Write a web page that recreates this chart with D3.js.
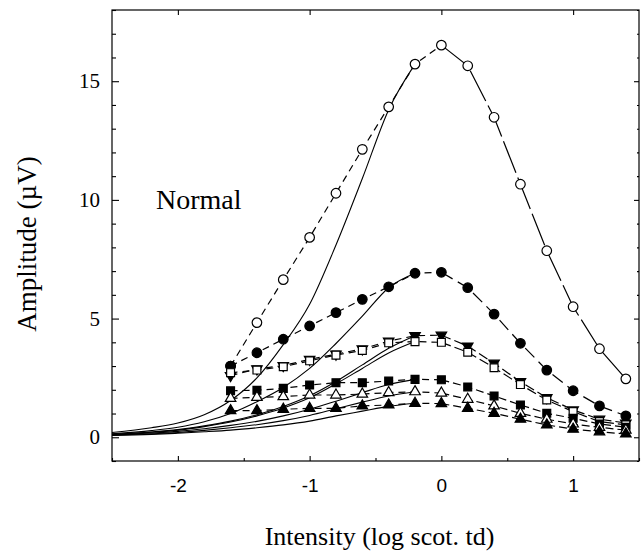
<!DOCTYPE html>
<html>
<head>
<meta charset="utf-8">
<script src="https://cdn.jsdelivr.net/npm/d3@7"></script>
<style>
  body { margin: 0; background: #fff; }
  svg { display: block; }
</style>
</head>
<body>
<div id="chart-container"></div>
<script>
// log intensity of each measured flash
const intensities = [-1.6, -1.4, -1.2, -1.0, -0.8, -0.6, -0.4, -0.2, 0, 0.2, 0.4, 0.6, 0.8, 1.0, 1.2, 1.4];

// measured amplitudes (uV), one list per symbol
const openCircle     = [3.0, 4.83, 6.64, 8.42, 10.28, 12.13, 13.92, 15.72, 16.52, 15.65, 13.48, 10.66, 7.86, 5.50, 3.73, 2.46];
const filledCircle   = [3.0, 3.56, 4.13, 4.69, 5.25, 5.81, 6.34, 6.91, 6.95, 6.30, 5.19, 3.96, 2.83, 1.96, 1.32, 0.90];
const invTriangle    = [2.6, 2.88, 3.02, 3.28, 3.50, 3.72, 4.05, 4.28, 4.30, 3.84, 3.12, 2.34, 1.67, 1.15, 0.76, 0.60];
const openSquare     = [2.72, 2.83, 2.97, 3.22, 3.46, 3.66, 3.98, 4.03, 4.00, 3.58, 2.93, 2.22, 1.57, 1.08, 0.66, 0.52];
const filledSquare   = [1.96, 1.98, 2.06, 2.20, 2.30, 2.30, 2.37, 2.44, 2.42, 2.12, 1.74, 1.36, 1.01, 0.80, 0.56, 0.42];
const openTriangle   = [1.64, 1.68, 1.71, 1.78, 1.78, 1.82, 1.88, 1.92, 1.86, 1.60, 1.32, 1.01, 0.76, 0.56, 0.42, 0.30];
const filledTriangle = [1.12, 1.12, 1.18, 1.22, 1.22, 1.32, 1.36, 1.43, 1.42, 1.22, 1.01, 0.76, 0.52, 0.34, 0.23, 0.14];

// fitted curves (solid lines)
const fitIntensities = [-2.5, -2.2, -2.0, -1.8, -1.6, -1.4, -1.2, -1.0, -0.8, -0.6, -0.4, -0.2];
const fitOpenCircle     = [0.20, 0.40, 0.60, 0.95, 1.55, 2.50, 3.90, 5.60, 8.10, 10.90, 13.80, 15.72];
const fitFilledCircle   = [0.15, 0.28, 0.42, 0.65, 1.00, 1.50, 2.10, 2.90, 3.95, 5.10, 6.30, 6.91];
const fitInvTriangle    = [0.12, 0.22, 0.32, 0.48, 0.68, 0.95, 1.30, 1.75, 2.35, 3.05, 3.75, 4.28];
const fitOpenSquare     = [0.12, 0.21, 0.30, 0.45, 0.64, 0.90, 1.23, 1.66, 2.25, 2.90, 3.55, 4.03];
const fitFilledSquare   = [0.10, 0.18, 0.25, 0.36, 0.50, 0.67, 0.90, 1.18, 1.52, 1.88, 2.22, 2.44];
const fitOpenTriangle   = [0.09, 0.15, 0.20, 0.29, 0.40, 0.53, 0.70, 0.92, 1.20, 1.48, 1.74, 1.92];
const fitFilledTriangle = [0.08, 0.12, 0.17, 0.23, 0.30, 0.40, 0.52, 0.68, 0.90, 1.10, 1.30, 1.43];

const xMajorTicks = [-2, -1, 0, 1];
const xMinorTicks = [-2.5, -1.5, -0.5, 0.5, 1.5];
const yMajorTicks = [0, 5, 10, 15];
const yMinorTicks = [-1, 1, 2, 3, 4, 6, 7, 8, 9, 11, 12, 13, 14, 16, 17, 18];

const series = [
    { values: fitOpenCircle,     data: openCircle,     symbol: "circle",   filled: false, rightDash: "34,5" },
    { values: fitFilledCircle,   data: filledCircle,   symbol: "circle",   filled: true,  rightDash: "13,6" },
    { values: fitInvTriangle,    data: invTriangle,    symbol: "triDown",  filled: true,  rightDash: "10,4" },
    { values: fitOpenSquare,     data: openSquare,     symbol: "square",   filled: false, rightDash: "10,4" },
    { values: fitFilledSquare,   data: filledSquare,   symbol: "square",   filled: true,  rightDash: "8,4" },
    { values: fitOpenTriangle,   data: openTriangle,   symbol: "triangle", filled: false, rightDash: "8,4" },
    { values: fitFilledTriangle, data: filledTriangle, symbol: "triangle", filled: true,  rightDash: "8,4" }
];

const svgWidth = 644;
const svgHeight = 553;
const margin = { top: 10, right: 5, bottom: 92, left: 112 };
const width = svgWidth - margin.left - margin.right;
const height = svgHeight - margin.top - margin.bottom;

const svg = d3.select("#chart-container")
    .append("svg")
    .attr("width", svgWidth)
    .attr("height", svgHeight);

const chart = svg.append("g")
    .attr("transform", `translate(${margin.left},${margin.top})`);

const scaleX = d3.scaleLinear().domain([-2.5, 1.5]).range([0, width]);
const scaleY = d3.scaleLinear().domain([-1, 18]).range([height, 0]);

// axes: ticks point inward, frame drawn separately
function styleAxis(g) {
    g.select(".domain").remove();
    g.selectAll(".tick line").attr("stroke", "#000").attr("stroke-width", 1.1);
}

chart.append("g")
    .attr("transform", `translate(0,${height})`)
    .call(d3.axisBottom(scaleX).tickValues(xMajorTicks).tickSize(-5).tickPadding(18)
        .tickFormat(d => d3.format("d")(d).replace("−", "-")))
    .call(styleAxis)
    .call(g => g.selectAll("text")
        .attr("font-family", "'Liberation Sans', Arial, sans-serif")
        .attr("font-size", "19px")
        .attr("fill", "#000"));

chart.append("g")
    .attr("transform", `translate(0,${height})`)
    .call(d3.axisBottom(scaleX).tickValues(xMinorTicks).tickSize(-3).tickFormat(""))
    .call(styleAxis);

chart.append("g")
    .call(d3.axisTop(scaleX).tickValues(xMajorTicks).tickSize(-5).tickFormat(""))
    .call(styleAxis);

chart.append("g")
    .call(d3.axisLeft(scaleY).tickValues(yMajorTicks).tickSize(-7).tickPadding(12))
    .call(styleAxis)
    .call(g => g.selectAll("text")
        .attr("font-family", "'Liberation Serif', 'Times New Roman', serif")
        .attr("font-size", "21px")
        .attr("fill", "#000"));

chart.append("g")
    .call(d3.axisLeft(scaleY).tickValues(yMinorTicks).tickSize(-4).tickFormat(""))
    .call(styleAxis);

chart.append("g")
    .attr("transform", `translate(${width},0)`)
    .call(d3.axisRight(scaleY).tickValues(yMajorTicks).tickSize(-5).tickFormat(""))
    .call(styleAxis);

chart.append("g")
    .attr("transform", `translate(${width},0)`)
    .call(d3.axisRight(scaleY).tickValues(yMinorTicks).tickSize(-2).tickFormat(""))
    .call(styleAxis);

chart.append("rect")
    .attr("width", width)
    .attr("height", height)
    .attr("fill", "none")
    .attr("stroke", "#000")
    .attr("stroke-width", 1.2);

// fitted curves
const fitLine = d3.line()
    .x((d, i) => scaleX(fitIntensities[i]))
    .y(d => scaleY(d))
    .curve(d3.curveMonotoneX);

chart.selectAll(".fit")
    .data(series)
    .enter()
    .append("path")
    .attr("class", "fit")
    .attr("d", d => fitLine(d.values))
    .attr("fill", "none")
    .attr("stroke", "#000")
    .attr("stroke-width", 1.1);

// data connecting lines: short dashes rising, longer dashes falling
const dataLine = d3.line()
    .x(d => scaleX(d[0]))
    .y(d => scaleY(d[1]));

const peakIndex = intensities.indexOf(0);

series.forEach(function(s) {
    const pts = intensities.map((x, i) => [x, s.data[i]]);
    chart.append("path")
        .attr("d", dataLine(pts.slice(0, peakIndex + 1)))
        .attr("fill", "none")
        .attr("stroke", "#000")
        .attr("stroke-width", 1.2)
        .attr("stroke-dasharray", "7,5");
    chart.append("path")
        .attr("d", dataLine(pts.slice(peakIndex)))
        .attr("fill", "none")
        .attr("stroke", "#000")
        .attr("stroke-width", 1.2)
        .attr("stroke-dasharray", s.rightDash);
});

// markers
const symbolPaths = {
    circle: d3.symbol().type(d3.symbolCircle).size(72)(),
    square: d3.symbol().type(d3.symbolSquare).size(62)(),
    triangle: d3.symbol().type(d3.symbolTriangle).size(48)(),
    triDown: d3.symbol().type(d3.symbolTriangle).size(48)()
};

series.forEach(function(s) {
    chart.selectAll(null)
        .data(intensities.map((x, i) => [x, s.data[i]]))
        .enter()
        .append("path")
        .attr("d", symbolPaths[s.symbol])
        .attr("transform", d => `translate(${scaleX(d[0])},${scaleY(d[1])})` + (s.symbol === "triDown" ? " rotate(180)" : ""))
        .attr("fill", s.filled ? "#000" : "#fff")
        .attr("stroke", "#000")
        .attr("stroke-width", 1.2);
});

chart.append("text")
    .attr("x", 44)
    .attr("y", 199)
    .attr("font-family", "'Liberation Serif', 'Times New Roman', serif")
    .attr("font-size", "28px")
    .text("Normal");

svg.append("text")
    .attr("x", (margin.left + margin.left + width) / 2 + 4)
    .attr("y", 545)
    .attr("text-anchor", "middle")
    .attr("font-family", "'Liberation Serif', 'Times New Roman', serif")
    .attr("font-size", "26px")
    .text("Intensity (log scot. td)");

svg.append("text")
    .attr("transform", "rotate(-90)")
    .attr("x", -244)
    .attr("y", 36)
    .attr("text-anchor", "middle")
    .attr("font-family", "'Liberation Serif', 'Times New Roman', serif")
    .attr("font-size", "27px")
    .text("Amplitude (\u00B5V)");
</script>
</body>
</html>
